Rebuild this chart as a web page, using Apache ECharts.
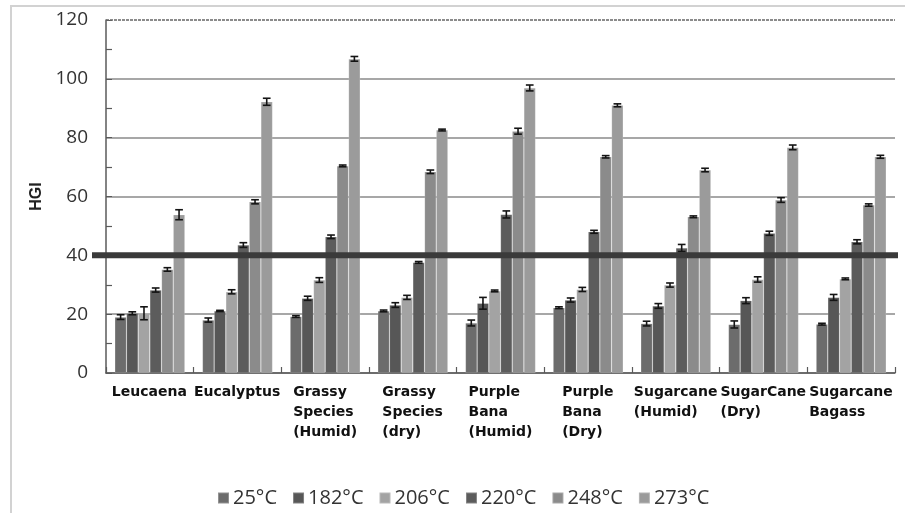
<!DOCTYPE html>
<html>
<head>
<meta charset="utf-8">
<title>HGI by torrefaction temperature</title>
<script src="https://cdn.jsdelivr.net/npm/echarts@6/dist/echarts.min.js"></script>
<style>
  html, body { margin: 0; padding: 0; background: #fff; }
  #chart { width: 905px; height: 513px; }
</style>
</head>
<body>
<div id="chart"></div>
<script>
// Biomass types on the category axis
const categories = [
  'Leucaena', 'Eucalyptus', 'Grassy\nSpecies\n(Humid)', 'Grassy\nSpecies\n(dry)',
  'Purple\nBana\n(Humid)', 'Purple\nBana\n(Dry)', 'Sugarcane\n(Humid)',
  'SugarCane\n(Dry)', 'Sugarcane\nBagass'
];

// Treatment temperatures (one bar series each)
const temperatures = ['25°C', '182°C', '206°C', '220°C', '248°C', '273°C'];

// Mean HGI per biomass type
const hgi25  = [19.0, 18.0, 19.2, 21.1, 17.0, 22.2, 16.8, 16.5, 16.6];
const hgi182 = [20.3, 21.1, 25.4, 23.1, 23.7, 24.8, 22.8, 24.6, 25.7];
const hgi206 = [20.3, 27.6, 31.6, 25.7, 27.9, 28.4, 29.9, 31.8, 32.0];
const hgi220 = [28.2, 43.5, 46.3, 37.6, 53.9, 48.0, 42.5, 47.5, 44.6];
const hgi248 = [35.2, 58.2, 70.4, 68.4, 82.2, 73.5, 53.1, 58.8, 57.1];
const hgi273 = [53.8, 92.2, 106.8, 82.6, 96.9, 91.0, 69.0, 76.7, 73.5];

// Standard deviation of each mean
const err25  = [0.8, 0.7, 0.3, 0.3, 1.0, 0.3, 0.8, 1.2, 0.3];
const err182 = [0.5, 0.2, 0.7, 0.8, 2.0, 0.7, 0.8, 1.0, 1.0];
const err206 = [2.2, 0.7, 0.8, 0.7, 0.3, 0.7, 0.7, 0.9, 0.3];
const err220 = [0.7, 0.8, 0.6, 0.3, 1.2, 0.5, 1.2, 0.7, 0.7];
const err248 = [0.6, 0.7, 0.3, 0.6, 1.0, 0.4, 0.3, 0.8, 0.4];
const err273 = [1.7, 1.2, 0.8, 0.3, 1.0, 0.5, 0.6, 0.8, 0.5];

// Y axis ticks
const yMin = 0, yMax = 120, yStep = 20;
// Reference HGI level drawn as a heavy rule
const hgiReference = 40;

const means = [hgi25, hgi182, hgi206, hgi220, hgi248, hgi273];
const errors = [err25, err182, err206, err220, err248, err273];
const colors = ['#6c6c6c', '#575757', '#a3a3a3', '#5c5c5c', '#8b8b8b', '#9b9b9b'];

const CAT_GAP = 0.2;
const LABEL_SIZE = 14;
const labelFont = 'bold ' + LABEL_SIZE + 'px "DejaVu Sans"';

// Measure each category label so its lines can be left-aligned in a centred block
const measureCtx = document.createElement('canvas').getContext('2d');
measureCtx.font = labelFont;
const rich = {};
categories.forEach((c, i) => {
  const w = Math.max(...c.split('\n').map(l => measureCtx.measureText(l).width));
  rich['c' + i] = {
    width: Math.ceil(w), align: 'left', fontFamily: 'DejaVu Sans', fontWeight: 'bold',
    fontSize: LABEL_SIZE, lineHeight: 20, color: '#111'
  };
});

const chart = echarts.init(document.getElementById('chart'), null, { renderer: 'canvas' });

const barSeries = temperatures.map((t, k) => ({
  name: t,
  type: 'bar',
  data: means[k],
  barGap: '0%',
  barCategoryGap: (CAT_GAP * 100) + '%',
  itemStyle: { color: colors[k], borderColor: 'rgba(255,255,255,0.25)', borderWidth: 0.6 },
  z: 2
}));

const errorSeries = temperatures.map((t, k) => ({
  type: 'custom',
  name: t + ' error',
  data: means[k].map((v, i) => [i, v, errors[k][i]]),
  z: 5,
  silent: true,
  renderItem: function (params, api) {
    const c = api.value(0), v = api.value(1), e = api.value(2);
    const catW = api.size([1, 0])[0];
    const barW = catW * (1 - CAT_GAP) / temperatures.length;
    const cx = api.coord([c, v])[0] + (k - (temperatures.length - 1) / 2) * barW;
    const yTop = api.coord([c, v + e])[1];
    const yBot = api.coord([c, v - e])[1];
    const hw = barW * 0.33;
    const st = { stroke: '#141414', lineWidth: 1.6 };
    return {
      type: 'group',
      children: [
        { type: 'line', shape: { x1: cx, y1: yTop, x2: cx, y2: yBot }, style: st },
        { type: 'line', shape: { x1: cx - hw, y1: yTop, x2: cx + hw, y2: yTop }, style: st },
        { type: 'line', shape: { x1: cx - hw, y1: yBot, x2: cx + hw, y2: yBot }, style: st }
      ]
    };
  }
}));

const frame = {
  type: 'rect',
  silent: true,
  shape: { x: 11, y: 6, width: 1200, height: 1000 },
  style: { fill: 'none', stroke: '#d2d2d2', lineWidth: 2 },
  z: -10
};

const option = {
  animation: false,
  backgroundColor: '#ffffff',
  color: colors,
  grid: { left: 106, right: 10, top: 20, bottom: 140, containLabel: false },
  legend: {
    data: temperatures,
    bottom: 0,
    left: 212,
    icon: 'rect',
    itemWidth: 11,
    itemHeight: 11,
    itemGap: 15,
    textStyle: { fontFamily: 'Open Sans', fontSize: 20, color: '#333', padding: [0, 0, 0, -1] }
  },
  xAxis: {
    type: 'category',
    data: categories,
    axisLine: { lineStyle: { color: '#5a5a5a', width: 1.5 } },
    axisTick: { show: true, inside: true, length: 6, alignWithLabel: false, lineStyle: { color: '#5a5a5a', width: 1.2 } },
    axisLabel: {
      interval: 0,
      margin: 9,
      formatter: function (value, index) {
        return value.split('\n').map(l => '{c' + index + '|' + l + '}').join('\n');
      },
      rich: rich
    },
    splitLine: { show: false }
  },
  yAxis: {
    type: 'value',
    min: yMin,
    max: yMax,
    interval: yStep,
    name: 'HGI',
    nameLocation: 'middle',
    nameGap: 60,
    nameTextStyle: { fontFamily: 'Liberation Sans', fontWeight: 'bold', fontSize: 16, color: '#222' },
    axisLine: { show: true, lineStyle: { color: '#5a5a5a', width: 1.5 } },
    axisTick: { show: true, inside: true, length: 6, lineStyle: { color: '#5a5a5a' } },
    minorTick: { show: true, splitNumber: 2, length: 6, lineStyle: { color: '#5a5a5a', width: 1.2 } },
    axisLabel: { margin: 18, fontFamily: 'Open Sans', fontSize: 19, color: '#333' },
    splitLine: {
      show: true,
      lineStyle: { color: ['#8a8a8a', '#8a8a8a', '#8a8a8a', '#8a8a8a', '#8a8a8a', '#8a8a8a', 'transparent'], width: 1.5 }
    }
  },
  series: barSeries.concat(errorSeries, [{
    // dashed frame line along the top of the value range
    type: 'line',
    data: [],
    silent: true,
    markLine: {
      silent: true,
      symbol: 'none',
      label: { show: false },
      lineStyle: { color: '#666', type: [3, 1], width: 1.5 },
      data: [{ yAxis: yMax }]
    }
  }]),
  graphic: [frame]
};

chart.setOption(option);

// Heavy reference rule, reaching slightly past the plot on both sides
const yRef = chart.convertToPixel({ yAxisIndex: 0 }, hgiReference);
const gridRect = chart.getModel().getComponent('grid').coordinateSystem.getRect();
chart.setOption({
  graphic: [frame, {
    type: 'line',
    silent: true,
    shape: { x1: gridRect.x - 14, y1: yRef, x2: gridRect.x + gridRect.width + 3, y2: yRef },
    style: { stroke: '#3a3a3a', lineWidth: 6 },
    z: 100
  }]
});
</script>
</body>
</html>
